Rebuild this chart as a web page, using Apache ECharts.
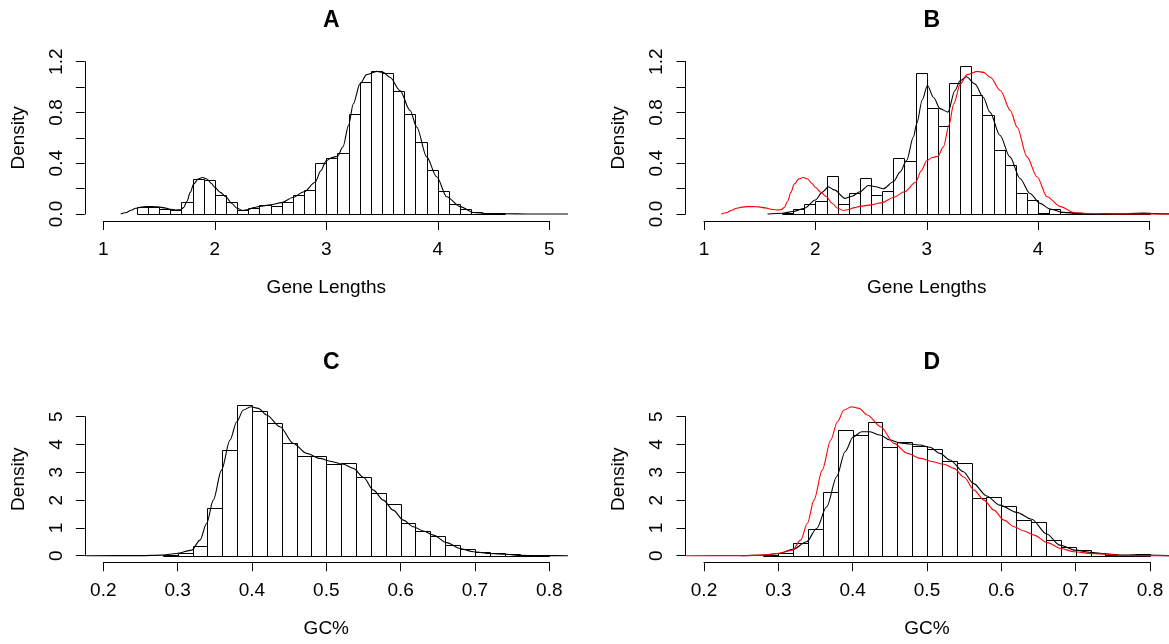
<!DOCTYPE html>
<html>
<head>
<meta charset="utf-8">
<script src="https://cdn.jsdelivr.net/npm/echarts@6/dist/echarts.min.js"></script>
<style>
html,body{margin:0;padding:0;background:#fff;}
#chart{width:1169px;height:644px;}
</style>
</head>
<body>
<div id="chart"></div>
<script>
// ---------- DATA ----------
const panelTitles = ['A', 'B', 'C', 'D'];
const xNameLen = 'Gene Lengths';
const xNameGC = 'GC%';
const yName = 'Density';

// Panel A histogram (bins of 0.1 starting at 1.3)
const aBinStart = 1.3, aBinWidth = 0.1;
const aHist = [0.058, 0.058, 0.037, 0.029, 0.092, 0.275, 0.264, 0.149, 0.092, 0.031, 0.044,
  0.068, 0.060, 0.092, 0.149, 0.186, 0.405, 0.44, 0.48, 0.784, 1.04, 1.13, 1.11, 0.97,
  0.784, 0.567, 0.35, 0.178, 0.076, 0.037, 0.013, 0.008, 0.008];
// Panel A density (also red curve in B)
const aDensity = [[1.156,0],[1.2,0.01],[1.25,0.03],[1.29,0.045],[1.34,0.054],[1.39,0.058],[1.44,0.058],
  [1.49,0.056],[1.55,0.048],[1.6,0.038],[1.65,0.032],[1.69,0.033],[1.72,0.05],[1.75,0.1],[1.78,0.17],
  [1.81,0.235],[1.85,0.275],[1.89,0.287],[1.93,0.276],[1.97,0.24],[2.0,0.21],[2.05,0.17],[2.1,0.136],
  [2.15,0.085],[2.2,0.045],[2.25,0.028],[2.3,0.035],[2.35,0.05],[2.4,0.06],[2.5,0.072],[2.6,0.09],
  [2.7,0.13],[2.8,0.175],[2.9,0.25],[2.95,0.34],[3.0,0.42],[3.05,0.445],[3.1,0.455],[3.15,0.53],
  [3.2,0.7],[3.242,0.868],[3.302,1.025],[3.362,1.098],[3.452,1.124],[3.511,1.116],[3.571,1.077],
  [3.661,0.973],[3.751,0.816],[3.811,0.685],[3.9,0.45],[3.99,0.293],[4.08,0.136],[4.2,0.058],
  [4.32,0.012],[4.45,0.004],[4.6,0.002],[4.8,0],[5.3,0]];

// Panel B histogram (bins of 0.1 starting at 1.7)
const bBinStart = 1.7, bBinWidth = 0.1;
const bHist = [0.008, 0.037, 0.081, 0.10, 0.30, 0.076, 0.162, 0.282, 0.146, 0.178, 0.444, 0.416,
  1.114, 0.837, 0.69, 1.03, 1.163, 0.939, 0.782, 0.502, 0.39, 0.167, 0.11, 0.01, 0.042, 0.016,
  0.008, 0.005, 0, 0, 0, 0, 0.008];
const bDensity = [[1.57,0],[1.7,0.006],[1.8,0.02],[1.9,0.044],[2.0,0.11],[2.06,0.17],[2.117,0.214],
  [2.17,0.19],[2.267,0.123],[2.33,0.14],[2.4,0.175],[2.476,0.225],[2.54,0.215],[2.611,0.199],
  [2.70,0.254],[2.76,0.33],[2.82,0.424],[2.88,0.607],[2.91,0.711],[2.96,0.9],[3.006,1.012],
  [3.06,0.92],[3.12,0.83],[3.19,0.803],[3.253,0.973],[3.30,1.05],[3.357,1.082],[3.432,1.025],
  [3.507,0.92],[3.567,0.803],[3.657,0.62],[3.747,0.45],[3.837,0.28],[3.927,0.162],[4.017,0.084],
  [4.107,0.039],[4.227,0.013],[4.347,0.005],[4.587,0.003],[4.8,0.002],[4.95,0.008],[5.05,0.003],[5.2,0]];

// Panel C histogram (bins of 0.02 starting at 0.28)
const cBinStart = 0.28, cBinWidth = 0.02;
const cHist = [0.02, 0.1, 0.35, 1.70, 3.82, 5.43, 5.22, 4.77, 4.04, 3.60, 3.60, 3.30, 3.33, 2.82,
  2.24, 1.86, 1.16, 0.875, 0.71, 0.40, 0.23, 0.13, 0.08, 0.05, 0.02, 0.01];
// Panel C density (also red curve in D)
const cDensity = [[0.176,0],[0.25,0.002],[0.28,0.02],[0.2987,0.08],[0.319,0.2],[0.330,0.56],
  [0.339,1.16],[0.348,2.0],[0.359,3.08],[0.3705,4.16],[0.3795,4.82],[0.3884,5.24],[0.3983,5.36],
  [0.4086,5.30],[0.4198,5.06],[0.4377,4.64],[0.4556,4.04],[0.4736,3.68],[0.4915,3.50],[0.505,3.40],
  [0.5229,3.29],[0.5363,3.14],[0.55,2.82],[0.5633,2.36],[0.5767,2.0],[0.59,1.64],[0.6036,1.28],
  [0.617,1.04],[0.6305,0.89],[0.644,0.74],[0.662,0.47],[0.68,0.26],[0.6978,0.14],[0.7203,0.08],
  [0.7427,0.05],[0.7606,0.01],[0.79,0.003],[0.83,0]];

// Panel D histogram (bins of 0.02 starting at 0.28)
const dBinStart = 0.28, dBinWidth = 0.02;
const dHist = [0.02, 0.11, 0.44, 0.95, 2.30, 4.52, 4.34, 4.82, 3.92, 4.10, 3.93, 3.85, 3.41, 3.33,
  2.09, 2.12, 1.79, 1.28, 1.21, 0.56, 0.30, 0.20, 0.08, 0.03, 0.01, 0.05];
const dDensity = [[0.25,0],[0.28,0.02],[0.30,0.08],[0.32,0.23],[0.338,0.5],[0.3516,0.98],[0.365,1.76],
  [0.3785,2.84],[0.3897,3.74],[0.4009,4.28],[0.4121,4.46],[0.4233,4.46],[0.4368,4.34],[0.4502,4.16],
  [0.4637,4.06],[0.4771,4.02],[0.4906,3.98],[0.504,3.90],[0.5175,3.68],[0.531,3.44],[0.549,3.02],
  [0.5623,2.6],[0.5803,2.15],[0.598,1.82],[0.6207,1.56],[0.6409,1.31],[0.661,0.78],[0.6788,0.38],
  [0.6996,0.2],[0.7197,0.12],[0.74,0.07],[0.765,0.02],[0.79,0.04],[0.81,0.01],[0.83,0]];

// Axis ranges: visible axis extent and full plot region (R-style 4% padding)
const lenAxis = {min: 1, max: 5, step: 1, regionMin: 0.84, regionMax: 5.16};
const gcAxis = {min: 0.2, max: 0.8, step: 0.1, regionMin: 0.176, regionMax: 0.824};
const densAxisAB = {min: 0, max: 1.2, step: 0.2, regionMin: -0.048, regionMax: 1.248};
const densAxisCD = {min: 0, max: 5, step: 1, regionMin: -0.22, regionMax: 5.72};

// ---------- CHART ----------
const FONT = 'Liberation Sans, Arial, Helvetica, sans-serif';
function bins(start, width, vals) {
  return vals.map((h, i) => [+(start + i * width).toFixed(4), +(start + (i + 1) * width).toFixed(4), h]);
}
// Visible-axis boxes (pixel layout of the axis extents)
const boxes = [
  {left: 103.3, top: 61.7, width: 446, height: 152.3, xa: lenAxis, ya: densAxisAB},
  {left: 704, top: 61.7, width: 445.5, height: 152.3, xa: lenAxis, ya: densAxisAB},
  {left: 103.3, top: 416.7, width: 446, height: 139, xa: gcAxis, ya: densAxisCD},
  {left: 704, top: 416.7, width: 446, height: 139, xa: gcAxis, ya: densAxisCD}
];
// Plot regions used for clipping the density curves
function regionOf(b) {
  const sx = b.width / (b.xa.max - b.xa.min), sy = b.height / (b.ya.max - b.ya.min);
  return {
    left: b.left + (b.xa.regionMin - b.xa.min) * sx,
    width: (b.xa.regionMax - b.xa.regionMin) * sx,
    top: b.top - (b.ya.regionMax - b.ya.max) * sy,
    height: (b.ya.regionMax - b.ya.regionMin) * sy
  };
}
const grids = boxes.map(b => ({left: b.left, top: b.top, width: b.width, height: b.height}))
  .concat(boxes.map(regionOf));

const chart = echarts.init(document.getElementById('chart'), null, {renderer: 'canvas'});

function xAx(i, a, name, fmt, offset) {
  return {
    gridIndex: i, type: 'value', min: a.min, max: a.max, interval: a.step, offset: offset,
    axisLine: {show: true, onZero: false, lineStyle: {color: '#000', width: 1}},
    axisTick: {show: true, length: 9, lineStyle: {color: '#000', width: 1}},
    axisLabel: {color: '#000', fontSize: 19, fontFamily: FONT, margin: 19, showMinLabel: true, showMaxLabel: true, formatter: fmt},
    splitLine: {show: false},
    name: name, nameLocation: 'middle', nameGap: 57,
    nameTextStyle: {color: '#000', fontSize: 19, fontFamily: FONT}
  };
}
function yAx(i, a, fmt, pad) {
  return {
    gridIndex: i, type: 'value', min: a.min, max: a.max, interval: a.step, offset: 18.5,
    axisLine: {show: true, onZero: false, lineStyle: {color: '#000', width: 1}},
    axisTick: {show: true, length: 9, lineStyle: {color: '#000', width: 1}},
    axisLabel: {color: '#000', fontSize: 19, fontFamily: FONT, margin: 19, rotate: 90, showMinLabel: true, showMaxLabel: true, formatter: fmt},
    splitLine: {show: false},
    name: yName, nameLocation: 'middle', nameGap: 57,
    nameTextStyle: {color: '#000', fontSize: 19, fontFamily: FONT, padding: pad}
  };
}
function hiddenX(i, a) { return {gridIndex: i, type: 'value', min: a.regionMin, max: a.regionMax, show: false}; }
function hiddenY(i, a) { return {gridIndex: i, type: 'value', min: a.regionMin, max: a.regionMax, show: false}; }

const fmtLen = v => String(Math.round(v));
const fmtGC = v => v.toFixed(1);
const fmtYA = v => (Math.round(v * 10) % 4 === 0) ? v.toFixed(1) : '';
const fmtYC = v => String(Math.round(v));

function histSeries(i, data) {
  return {
    type: 'custom', xAxisIndex: i, yAxisIndex: i, data: data, clip: false, z: 2,
    encode: {x: [0, 1], y: 2},
    renderItem: function (params, api) {
      const p0 = api.coord([api.value(0), api.value(2)]);
      const p1 = api.coord([api.value(1), 0]);
      const x0 = Math.round(p0[0]) + 0.5, x1 = Math.round(p1[0]) + 0.5;
      const y0 = Math.round(p0[1]) + 0.5, y1 = Math.round(p1[1]) + 0.5;
      return {type: 'rect', shape: {x: x0, y: y0, width: x1 - x0, height: y1 - y0},
        style: {fill: 'none', stroke: '#000', lineWidth: 1}};
    }
  };
}
function lineSeries(i, data, color, z) {
  return {
    type: 'line', xAxisIndex: i, yAxisIndex: i, data: data, showSymbol: false, symbol: 'none',
    clip: true, z: z, smooth: 0.3, smoothMonotone: 'x',
    lineStyle: {color: color, width: 1.1}
  };
}

const option = {
  animation: false,
  backgroundColor: '#fff',
  title: panelTitles.map((t, i) => ({
    text: t, left: (i % 2 === 0 ? 326.3 : 926.7), top: (i < 2 ? 4 : 346), textAlign: 'center',
    textStyle: {fontSize: 23, fontWeight: 'bold', fontFamily: FONT, color: '#000'}
  })),
  grid: grids,
  xAxis: [
    xAx(0, lenAxis, xNameLen, fmtLen, 7),
    xAx(1, lenAxis, xNameLen, fmtLen, 7),
    xAx(2, gcAxis, xNameGC, fmtGC, 6.5),
    xAx(3, gcAxis, xNameGC, fmtGC, 6.5),
    hiddenX(4, lenAxis), hiddenX(5, lenAxis), hiddenX(6, gcAxis), hiddenX(7, gcAxis)
  ],
  yAxis: [
    yAx(0, densAxisAB, fmtYA, [0, 0, 0, 0]),
    yAx(1, densAxisAB, fmtYA, [0, 0, 0, 0]),
    yAx(2, densAxisCD, fmtYC, [0, 0, 0, 14]),
    yAx(3, densAxisCD, fmtYC, [0, 0, 0, 14]),
    hiddenY(4, densAxisAB), hiddenY(5, densAxisAB), hiddenY(6, densAxisCD), hiddenY(7, densAxisCD)
  ],
  series: [
    histSeries(0, bins(aBinStart, aBinWidth, aHist)),
    lineSeries(4, aDensity, '#000', 3),
    histSeries(1, bins(bBinStart, bBinWidth, bHist)),
    lineSeries(5, bDensity, '#000', 3),
    lineSeries(5, aDensity, '#ff0000', 4),
    histSeries(2, bins(cBinStart, cBinWidth, cHist)),
    lineSeries(6, cDensity, '#000', 3),
    histSeries(3, bins(dBinStart, dBinWidth, dHist)),
    lineSeries(7, dDensity, '#000', 3),
    lineSeries(7, cDensity, '#ff0000', 4)
  ]
};
chart.setOption(option);
</script>
</body>
</html>
